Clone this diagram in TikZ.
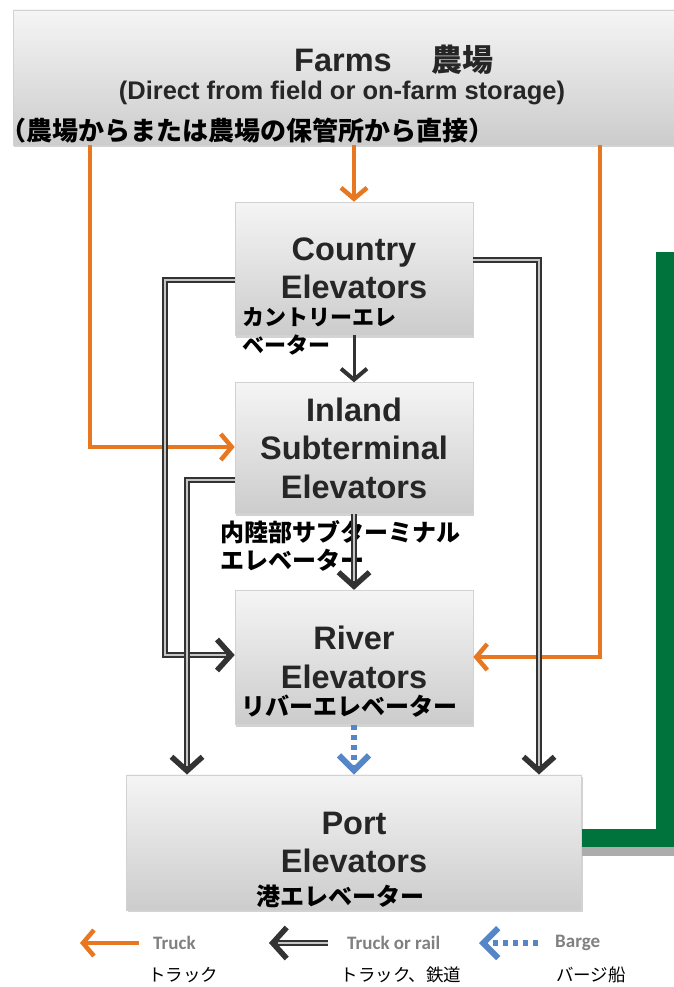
\documentclass[tikz,border=0pt]{standalone}
\usepackage{fontspec}
\setmainfont{Liberation Sans}
\newfontfamily\jpfont{Noto Sans CJK JP}
\newfontfamily\legendfont{Carlito}
\usetikzlibrary{arrows.meta, positioning, shadows}
\definecolor{truckorange}{RGB}{232,119,34}
\definecolor{bargeblue}{RGB}{84,134,200}
\definecolor{exportgreen}{RGB}{0,115,61}
\tikzstyle{elevator}=[draw=gray!35, line width=0.6pt, top color=gray!8, bottom color=gray!40, drop shadow={opacity=0.35, shadow xshift=1pt, shadow yshift=-2.5pt}, font=\bfseries\fontsize{32.5}{38.5}\selectfont, text=black!85, align=center, inner sep=0pt, minimum width=238pt]
\tikzstyle{jplabel}=[font=\jpfont\bfseries\fontsize{24}{28}\selectfont, inner sep=0pt, align=left, anchor=base west]
\tikzstyle{legendtext}=[font=\legendfont\bfseries\fontsize{19}{22}\selectfont, text=black!50, inner sep=0pt, anchor=west]
\tikzstyle{legendjp}=[font=\jpfont\fontsize{17.5}{20}\selectfont, inner sep=0pt, anchor=base]
\tikzstyle{truck}=[truckorange, line width=4pt, -{Straight Barb[length=11pt, width=26pt, line width=4.5pt]}]
\tikzstyle{rail}=[draw=black!80, line width=6pt, -{Straight Barb[length=14pt, width=31pt, line width=5.5pt]}, postaction={draw=gray!45, line width=2.2pt, -, shorten >=9pt}]
\tikzstyle{single}=[draw=black!80, line width=3pt, -{Straight Barb[length=11pt, width=26pt, line width=4pt]}]
\tikzstyle{barge}=[bargeblue, line width=5.5pt, dash pattern=on 5pt off 5pt, -{Straight Barb[length=15pt, width=30pt, line width=6pt]}]
\tikzstyle{export}=[exportgreen, line width=18pt, preaction={draw=gray!65, line width=18pt, transform canvas={yshift=-9pt}}]

\begin{document}
\begin{tikzpicture}[x=1pt, y=-1pt]
  \useasboundingbox (0,0) rectangle (673,987);
  % boxes
  \node[elevator, minimum width=667pt, minimum height=135pt] (farms) at (346.5,77.5) {};
  \node[elevator, minimum height=133pt] (country) at (354,268.5) {Country\\Elevators};
  \node[elevator, minimum height=131pt] (inland) [below=47pt of country] {Inland\\Subterminal\\Elevators};
  \node[elevator, minimum height=134pt] (river) [below=76pt of inland] {River\\Elevators};
  \node[elevator, minimum width=455pt, minimum height=135pt] (port) [below=50pt of river] {Port\\Elevators};
  % farm texts
  \node[anchor=base, inner sep=0pt, font=\bfseries\fontsize{32.5}{38}\selectfont, text=black!85] (farmstitle) at (394,72) {Farms\hspace{40pt}{\jpfont\fontsize{31}{38}\selectfont 農場}};
  \node[anchor=base, inner sep=0pt, font=\bfseries\fontsize{25.5}{30}\selectfont, text=black!85] (farmsnote) at (342,100) {(Direct from field or on-farm storage)};
  \node[jplabel, font=\jpfont\bfseries\fontsize{26}{30}\selectfont] (farmsjp) at (0,141) {（農場からまたは農場の保管所から直接）};
  % japanese labels
  \node[jplabel, font=\jpfont\bfseries\fontsize{22}{28}\selectfont, anchor=north west] (countryjp) at (242,307) {カントリーエレ\\ベーター};
  \node[jplabel, anchor=north west] (inlandjp) at (220,520) {内陸部サブターミナル\\エレベーター};
  \node[jplabel] (riverjp) at (241,715) {リバーエレベーター};
  \node[jplabel] (portjp) at (256,905) {港エレベーター};
  % truck
  \draw[truck] (farms.south -| 90,0) |- (inland.west |- 0,447);
  \draw[truck] (farms.south -| country) -- (country);
  \draw[truck] (farms.south -| 600,0) |- (river.east |- 0,657);
  % truck or rail
  \draw[rail] (country.west |- 0,280) -| (165,655) -- (river.west |- 0,655);
  \draw[rail] (country.east |- 0,260) -| (port.north -| 539,0);
  \draw[rail] (inland.west |- 0,480) -| (port.north -| 187,0);
  \draw[single] (country) -- (inland);
  \draw[rail] (inland) -- (river);
  % barge
  \draw[barge] (river.south) -- (river.south |- port.north);
  % export line
  \coordinate (greentop) at (665,252);
  \draw[export] (greentop) |- (port.east |- 0,838);
  % legend
  \coordinate (truckfrom) at (139,943);
  \coordinate (truckto) at (80,943);
  \coordinate (railfrom) at (328,943);
  \coordinate (railto) at (269,943);
  \coordinate (bargefrom) at (538,943);
  \coordinate (bargeto) at (479,943);
  \draw[truck] (truckfrom) -- (truckto);
  \draw[rail] (railfrom) -- (railto);
  \draw[barge] (bargefrom) -- (bargeto);
  \node[legendtext] (trucktext) at (153,943) {Truck};
  \node[legendtext] (railtext) at (347,943) {Truck or rail};
  \node[legendtext] (bargetext) at (555,943) {Barge};
  \node[legendjp] (truckjp) at (183,981) {トラック};
  \node[legendjp] (railjp) at (401,981) {トラック、鉄道};
  \node[legendjp] (bargejp) at (591,981) {バージ船};
\end{tikzpicture}
\end{document}
